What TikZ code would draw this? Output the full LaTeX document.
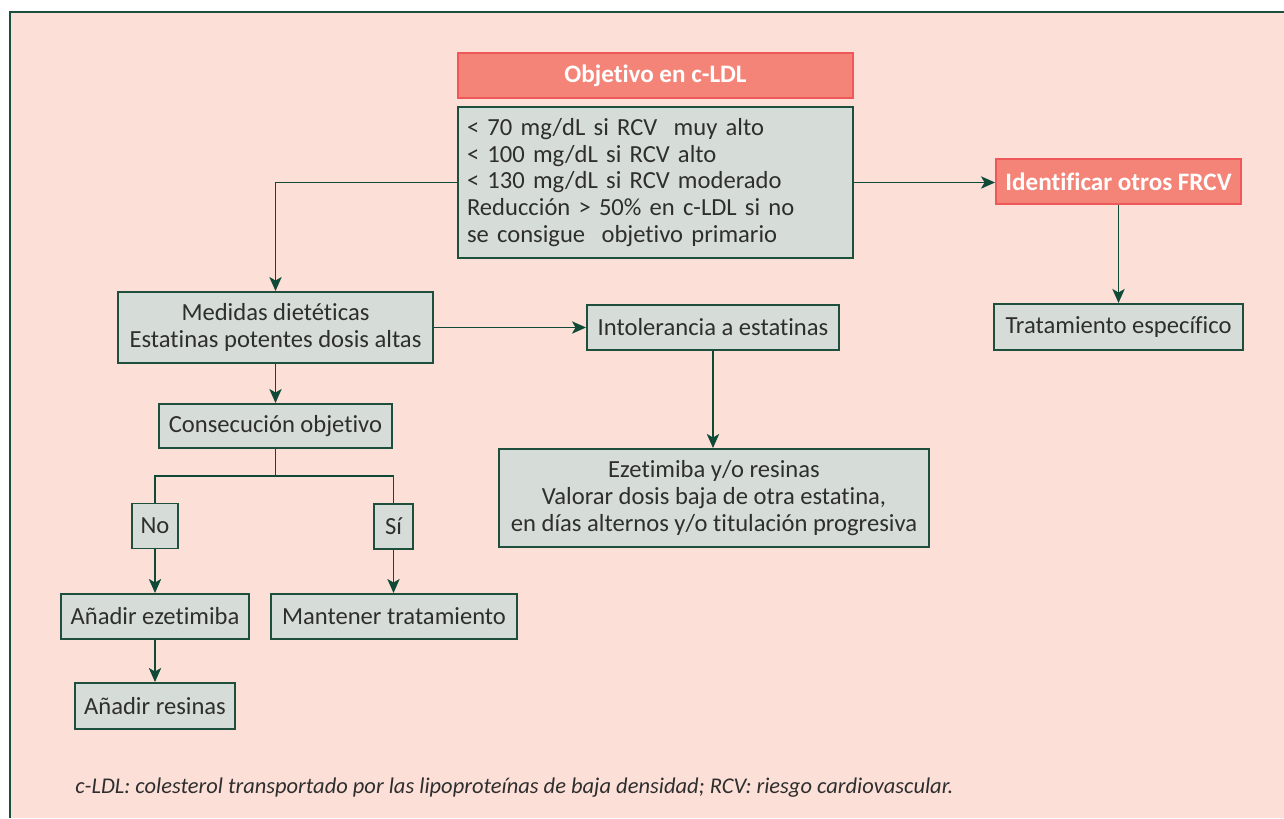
\documentclass[tikz,border=0pt]{standalone}
\usepackage{fontspec}
\setmainfont{Carlito}[Ligatures={NoCommon}]
\usetikzlibrary{arrows.meta}
\definecolor{bgpink}{HTML}{FCE0D8}
\definecolor{boxgrey}{HTML}{D6DDD9}
\definecolor{dkgreen}{HTML}{1E4F3D}
\definecolor{arrgreen}{HTML}{0F4A36}
\definecolor{hdrfill}{HTML}{F48477}
\definecolor{hdrline}{HTML}{EF5858}
\definecolor{txt}{HTML}{2E2E2E}
\tikzset{
  gbox/.style={draw=dkgreen, line width=1.1pt, fill=boxgrey, text=txt, inner sep=0pt,
    font=\fontsize{14}{15.2}\selectfont, align=center},
  hbox/.style={draw=hdrline, line width=1.1pt, fill=hdrfill, text=white, inner sep=0pt,
    font=\fontsize{14.3}{16}\selectfont\bfseries, align=center},
  conn/.style={draw=arrgreen, line width=0.95pt},
  arr/.style={conn, -{Stealth[length=8pt, width=7pt, inset=2pt]}}
}
\begin{document}
\begin{tikzpicture}[x=0.02cm, y=-0.02cm]
\useasboundingbox (0,0) rectangle (1284,818);
\fill[white] (0,0) rectangle (1284,818);
\fill[bgpink] (10,12) rectangle (1284,818);
\draw[dkgreen, line width=1.2pt] (10,818) -- (10,12) -- (1284,12);

\node[hbox, minimum width=7.9cm, minimum height=0.9cm] (obj) at (655.5,75.5) {Objetivo en c-LDL};
\node[gbox, minimum width=7.9cm, minimum height=3.02cm, text width=7.54cm, align=left] (crit) at (655.5,182.5)
  {< 70 mg/dL si RCV\ \ muy alto\\< 100 mg/dL si RCV alto\\< 130 mg/dL si RCV moderado\\Reducción > 50\% en c-LDL si no\\se consigue\ \ objetivo primario};
\node[hbox, minimum width=4.9cm, minimum height=0.9cm] (ident) at (1118.5,181.5) {Identificar otros FRCV};
\node[gbox, minimum width=4.98cm, minimum height=0.92cm] (trat) at (1118.5,327) {Tratamiento específico};
\node[gbox, minimum width=6.3cm, minimum height=1.42cm] (med) at (275.5,327.5) {Medidas dietéticas\\Estatinas potentes dosis altas};
\node[gbox, minimum width=5.04cm, minimum height=0.9cm] (intol) at (713,327.5) {Intolerancia a estatinas};
\node[gbox, minimum width=4.66cm, minimum height=0.88cm] (cons) at (275.5,426) {Consecución objetivo};
\node[gbox, minimum width=0.92cm, minimum height=0.9cm] (no) at (155,526) {No};
\node[gbox, minimum width=0.78cm, minimum height=0.9cm] (si) at (393.5,526.5) {Sí};
\node[gbox, minimum width=8.6cm, minimum height=1.96cm] (ezet) at (714,498) {Ezetimiba y/o resinas\\Valorar dosis baja de otra estatina,\\en días alternos y/o titulación progresiva};
\node[gbox, minimum width=3.76cm, minimum height=0.9cm] (anez) at (155,616.5) {Añadir ezetimiba};
\node[gbox, minimum width=4.92cm, minimum height=0.9cm] (mant) at (394,616.5) {Mantener tratamiento};
\node[gbox, minimum width=3.2cm, minimum height=0.92cm] (anres) at (155,706) {Añadir resinas};

\node[anchor=base west, text=txt, font=\fontsize{12.8}{15}\selectfont\itshape, inner sep=0pt] (cap) at (75,793)
  {c-LDL: colesterol transportado por las lipoproteínas de baja densidad; RCV: riesgo cardiovascular.};

\coordinate (jn) at (275.5,476);
\draw[arr] (crit.west) -| (med.north);
\draw[arr] (crit.east) -- (crit.east -| ident.west);
\draw[arr] (ident.south) -- (ident.south |- trat.north);
\draw[arr] (med.east) -- (intol.west);
\draw[arr] (intol.south) -- (intol.south |- ezet.north);
\draw[arr] (med.south) -- (cons.north);
\draw[conn] (cons.south) -- (jn);
\draw[conn] (no.north) |- (jn) -| (si.north);
\draw[arr] (no.south) -- (anez.north);
\draw[arr] (si.south) -- (si.south |- mant.north);
\draw[arr] (anez.south) -- (anres.north);
\end{tikzpicture}
\end{document}
